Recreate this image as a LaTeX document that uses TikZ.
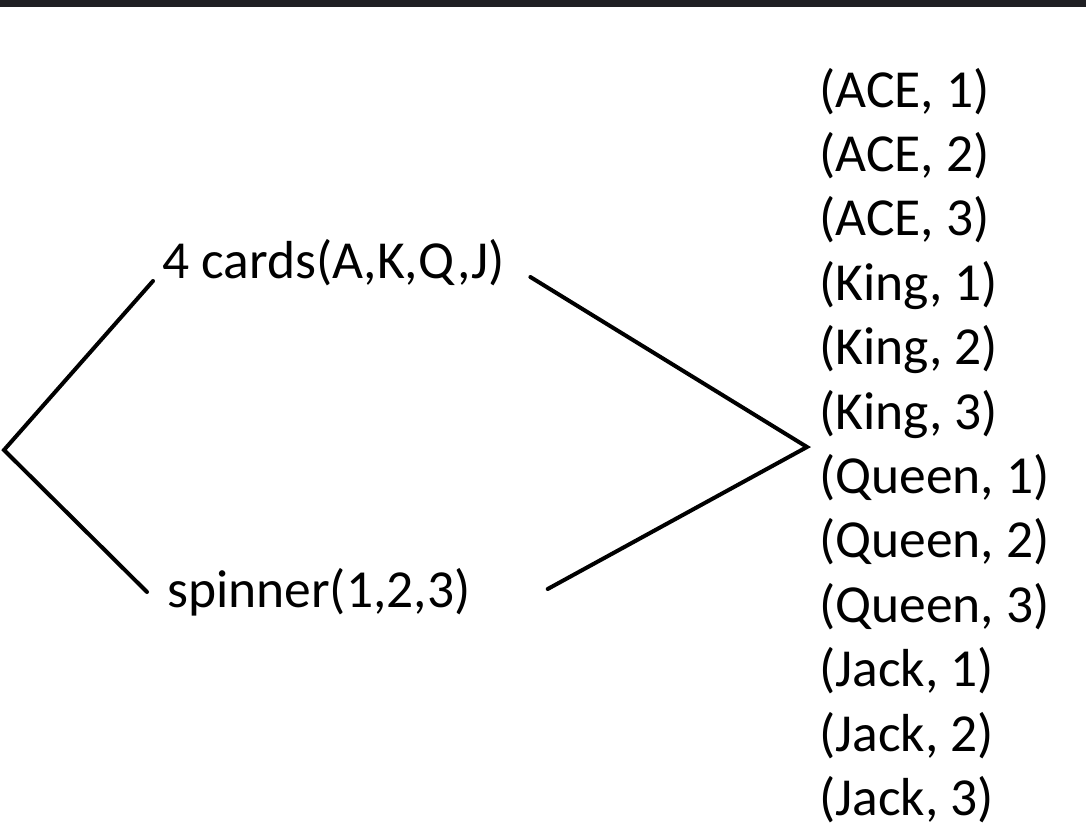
\documentclass[tikz,border=0pt]{standalone}
\usepackage{fontspec}
\setmainfont{Carlito}
\usepackage{tikz}
\usetikzlibrary{positioning,calc}
\definecolor{bar}{HTML}{1F1F23}

\begin{document}
\begin{tikzpicture}[x=1pt,y=-1pt,
  lbl/.style={anchor=base west,inner sep=0pt},
  res/.style={anchor=base west,inner sep=0pt},
  br/.style={line width=4pt,line cap=round},
  every node/.style={font=\fontsize{53.5}{64}\selectfont}]
  \useasboundingbox (0,0) rectangle (1086,830);
  \fill[bar] (0,0) rectangle (1086,7);
  \node[lbl] (cards) at (162,278) {4 cards(A,K,Q,J)};
  \node[lbl] (spin) at (167,607) {spinner(1,2,3)};
  \foreach \txt [count=\i] in {{(ACE, 1)},{(ACE, 2)},{(ACE, 3)},{(King, 1)},{(King, 2)},{(King, 3)},
    {(Queen, 1)},{(Queen, 2)},{(Queen, 3)},{(Jack, 1)},{(Jack, 2)},{(Jack, 3)}}
    \node[res] (o\i) at (819,{107+64.4*(\i-1)}) {\txt};
  \coordinate (root) at (4,450);
  \coordinate (join) at (807,447);
  \draw[br] ([shift={(-9,3)}]cards.base west) -- (root) -- ([shift={(-20,-15)}]spin.base west);
  \draw[br] ([shift={(26,-1)}]cards.base east) -- (join) -- ([shift={(77,-18)}]spin.base east);
\end{tikzpicture}
\end{document}
